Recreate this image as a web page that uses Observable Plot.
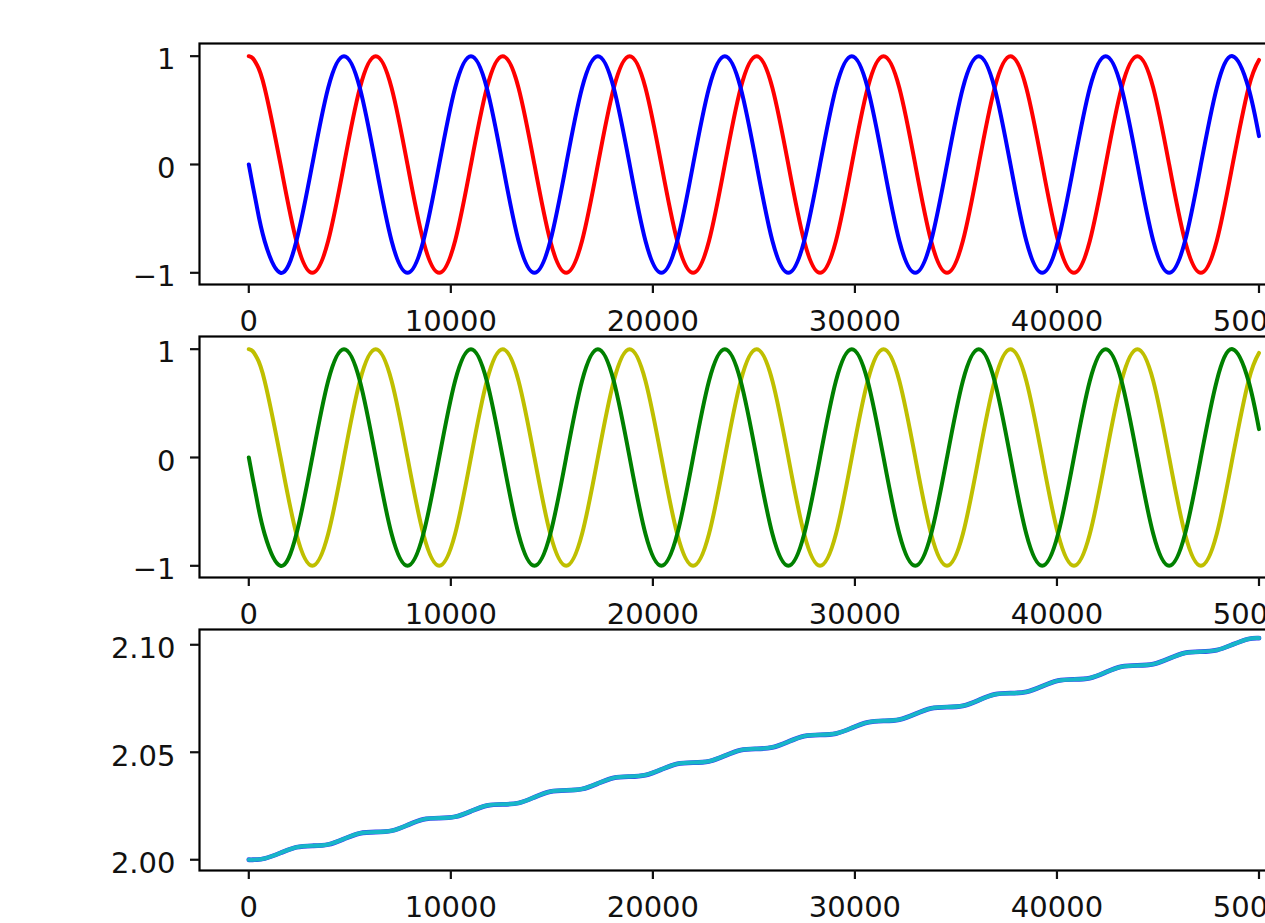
<!DOCTYPE html>
<html>
<head>
<meta charset="utf-8">
<script src="https://cdn.jsdelivr.net/npm/d3@7"></script>
<script src="https://cdn.jsdelivr.net/npm/@observablehq/plot@0.6"></script>
<style>
html, body { margin: 0; padding: 0; background: #fff; overflow: hidden; width: 1265px; height: 923px; }
#root { position: relative; width: 1265px; height: 923px; overflow: hidden; }
#root svg { position: absolute; left: 0; }
</style>
</head>
<body>
<div id="root"></div>
<script>
// sample positions read along the x axis
const xs = [
  0, 196, 392, 785, 1571, 2356, 3142, 3927, 4712, 5498,
  6283, 7069, 7854, 8639, 9425, 10210, 10996, 11781,
  12566, 13352, 14137, 14923, 15708, 16493, 17279, 18064,
  18850, 19635, 20420, 21206, 21991, 22777, 23562, 24347,
  25133, 25918, 26704, 27489, 28274, 29060, 29845, 30631,
  31416, 32201, 32987, 33772, 34558, 35343, 36128, 36914,
  37699, 38485, 39270, 40055, 40841, 41626, 42412, 43197,
  43982, 44768, 45553, 46339, 47124, 47909, 48695, 49480,
  50000
];
// panel 1, red curve
const redWave = [
  1, 0.981, 0.924, 0.707, 0, -0.707, -1, -0.707, 0, 0.707,
  1, 0.707, 0, -0.707, -1, -0.707, 0, 0.707,
  1, 0.707, 0, -0.707, -1, -0.707, 0, 0.707,
  1, 0.707, 0, -0.707, -1, -0.707, 0, 0.707,
  1, 0.707, 0, -0.707, -1, -0.707, 0, 0.707,
  1, 0.707, 0, -0.707, -1, -0.707, 0, 0.707,
  1, 0.707, 0, -0.707, -1, -0.707, 0, 0.707,
  1, 0.707, 0, -0.707, -1, -0.707, 0, 0.707,
  0.965
];
// panel 1, blue curve
const blueWave = [
  0, -0.195, -0.383, -0.707, -1, -0.707, 0, 0.707, 1, 0.707,
  0, -0.707, -1, -0.707, 0, 0.707, 1, 0.707,
  0, -0.707, -1, -0.707, 0, 0.707, 1, 0.707,
  0, -0.707, -1, -0.707, 0, 0.707, 1, 0.707,
  0, -0.707, -1, -0.707, 0, 0.707, 1, 0.707,
  0, -0.707, -1, -0.707, 0, 0.707, 1, 0.707,
  0, -0.707, -1, -0.707, 0, 0.707, 1, 0.707,
  0, -0.707, -1, -0.707, 0, 0.707, 1, 0.707,
  0.262
];
// panel 2, yellow curve
const yellowWave = [
  1, 0.981, 0.924, 0.707, 0, -0.707, -1, -0.707, 0, 0.707,
  1, 0.707, 0, -0.707, -1, -0.707, 0, 0.707,
  1, 0.707, 0, -0.707, -1, -0.707, 0, 0.707,
  1, 0.707, 0, -0.707, -1, -0.707, 0, 0.707,
  1, 0.707, 0, -0.707, -1, -0.707, 0, 0.707,
  1, 0.707, 0, -0.707, -1, -0.707, 0, 0.707,
  1, 0.707, 0, -0.707, -1, -0.707, 0, 0.707,
  1, 0.707, 0, -0.707, -1, -0.707, 0, 0.707,
  0.965
];
// panel 2, green curve
const greenWave = [
  0, -0.195, -0.383, -0.707, -1, -0.707, 0, 0.707, 1, 0.707,
  0, -0.707, -1, -0.707, 0, 0.707, 1, 0.707,
  0, -0.707, -1, -0.707, 0, 0.707, 1, 0.707,
  0, -0.707, -1, -0.707, 0, 0.707, 1, 0.707,
  0, -0.707, -1, -0.707, 0, 0.707, 1, 0.707,
  0, -0.707, -1, -0.707, 0, 0.707, 1, 0.707,
  0, -0.707, -1, -0.707, 0, 0.707, 1, 0.707,
  0, -0.707, -1, -0.707, 0, 0.707, 1, 0.707,
  0.262
];
// panel 3, rising wavy trend
const trend = [
  2.0000, 2.0000, 2.0001, 2.0006, 2.0032, 2.0058, 2.0065, 2.0071, 2.0097, 2.0123,
  2.0129, 2.0135, 2.0161, 2.0188, 2.0194, 2.0200, 2.0226, 2.0252,
  2.0258, 2.0264, 2.0291, 2.0317, 2.0323, 2.0329, 2.0355, 2.0381,
  2.0387, 2.0394, 2.0420, 2.0446, 2.0452, 2.0458, 2.0484, 2.0510,
  2.0516, 2.0523, 2.0549, 2.0575, 2.0581, 2.0587, 2.0613, 2.0639,
  2.0646, 2.0652, 2.0678, 2.0704, 2.0710, 2.0716, 2.0742, 2.0769,
  2.0775, 2.0781, 2.0807, 2.0833, 2.0839, 2.0845, 2.0872, 2.0898,
  2.0904, 2.0910, 2.0936, 2.0962, 2.0968, 2.0975, 2.1001, 2.1027,
  2.1031
];
const xTicks = [0, 10000, 20000, 30000, 40000, 50000];
const waveTicks = [-1, 0, 1];
const trendTicks = [2.00, 2.05, 2.10];

const W = 1310, ML = 199, MR = 1, AX_H = 241, MT = 20, MB = 60;
const xDomain = [-2440, 52500];
const root = document.getElementById("root");

function panel(top, series, yDomain, yTicks, yFormat) {
  const svg = Plot.plot({
    width: W,
    height: MT + AX_H + MB,
    marginLeft: ML, marginRight: MR, marginTop: MT, marginBottom: MB,
    x: {domain: xDomain, label: null},
    y: {domain: yDomain, label: null},
    style: {
      background: "transparent", overflow: "visible", maxWidth: "none",
      fontFamily: "'DejaVu Sans', sans-serif", fontSize: "29px", color: "#111"
    },
    marks: [
      ...series.map(s => Plot.line(xs.map((x, i) => ({x, y: s.values[i]})), {
        x: "x", y: "y", stroke: s.color, strokeWidth: s.width, curve: "natural"
      })),
      Plot.frame({stroke: "#000", strokeWidth: 2.2}),
      Plot.axisX({ticks: xTicks, tickSize: 9, tickPadding: 17, tickFormat: d => String(d), strokeWidth: 2.2, label: null}),
      Plot.axisY({ticks: yTicks, tickSize: 9, text: null, strokeWidth: 2.2, label: null}),
      Plot.axisY({ticks: yTicks, tickSize: 0, tickPadding: 24, tickFormat: yFormat, dy: 4, label: null})
    ]
  });
  svg.style.top = (top - MT) + "px";
  root.appendChild(svg);
}

const minusFmt = d => d < 0 ? "\u2212" + (-d) : String(d);

panel(43.3, [
  {values: redWave, color: "#ff0000", width: 4},
  {values: blueWave, color: "#0000ff", width: 4}
], [-1.108, 1.117], waveTicks, minusFmt);

panel(335.5, [
  {values: yellowWave, color: "#bfbf00", width: 4},
  {values: greenWave, color: "#008000", width: 4}
], [-1.108, 1.117], waveTicks, minusFmt);

panel(629, [
  {values: trend, color: "#3c3cf0", width: 4.8},
  {values: trend, color: "#17b6c8", width: 4}
], [1.995, 2.1071], trendTicks, d3.format(".2f"));
</script>
</body>
</html>
